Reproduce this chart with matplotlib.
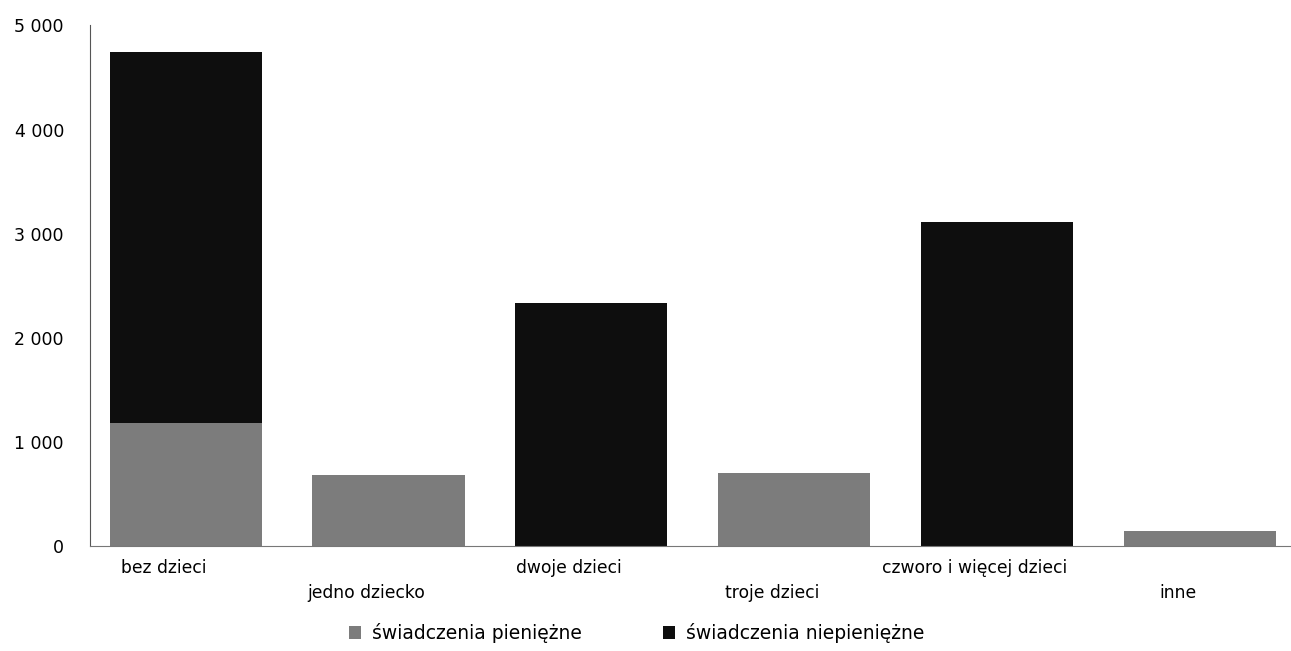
import numpy as np
import matplotlib
matplotlib.use("Agg")
import matplotlib.pyplot as plt
from matplotlib.transforms import ScaledTranslation

# data
categories = ["bez dzieci", "jedno dziecko", "dwoje dzieci", "troje dzieci",
              "czworo i więcej dzieci", "inne"]
pieniezne = [1180, 680, 0, 700, 0, 150]
niepieniezne = [3560, 0, 2330, 0, 3110, 0]
series_names = ["świadczenia pieniężne", "świadczenia niepieniężne"]
yticks = [0, 1000, 2000, 3000, 4000, 5000]
ytick_labels = ["0", "1 000", "2 000", "3 000", "4 000", "5 000"]

plt.rcParams["font.family"] = ["DejaVu Sans"]

fig = plt.figure(figsize=(12.91, 6.51), dpi=100)
ax = fig.add_axes([0.07, 0.161, 0.93, 0.80])

x = np.arange(len(categories))
w = 0.75
ax.bar(x, pieniezne, w, color="#7c7c7c", label=series_names[0])
ax.bar(x, niepieniezne, w, bottom=pieniezne, color="#0e0e0e", label=series_names[1])

ax.set_xlim(-0.47, 5.45)
ax.set_ylim(0, 5000)
ax.set_yticks(yticks)
ax.set_yticklabels(ytick_labels, fontsize=12.5)
ax.tick_params(axis="y", length=0, pad=19)
ax.tick_params(axis="x", length=0, pad=9)

ax.set_xticks(x)
ax.set_xticklabels(categories, fontsize=12.3)
shift = ScaledTranslation(-0.22, 0, fig.dpi_scale_trans)
for i, lbl in enumerate(ax.get_xticklabels()):
    lbl.set_transform(lbl.get_transform() + shift)
    if i % 2 == 1:
        lbl.set_y(-0.048)

for side in ["top", "right"]:
    ax.spines[side].set_visible(False)
ax.spines["left"].set_color("#555555")
ax.spines["left"].set_linewidth(0.8)
ax.spines["bottom"].set_color("#777777")
ax.spines["bottom"].set_linewidth(0.8)
ax.spines["bottom"].set_linestyle((0, (4, 1)))

ax.legend(loc="upper center", bbox_to_anchor=(0.455, -0.115), ncol=2, frameon=False,
          fontsize=13.5, handlelength=0.65, handleheight=0.65, handletextpad=0.6,
          columnspacing=4.3)

fig.savefig("out.png", dpi=100)
